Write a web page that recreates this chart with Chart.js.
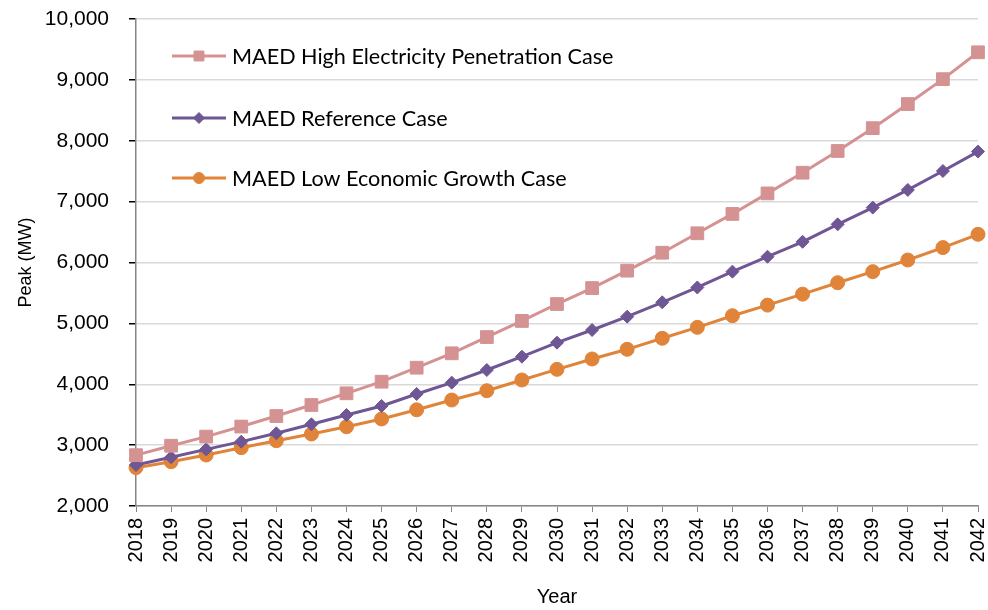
<!DOCTYPE html>
<html>
<head>
<meta charset="utf-8">
<script src="https://cdn.jsdelivr.net/npm/chart.js@4/dist/chart.umd.min.js"></script>
<style>
  html, body { margin: 0; padding: 0; background: #fff; }
  #wrap { width: 988px; height: 610px; }
</style>
</head>
<body>
<div id="wrap"><canvas id="peakChart"></canvas></div>
<script>
// 연도 (x축)
const years = ['2018', '2019', '2020', '2021', '2022', '2023', '2024', '2025', '2026', '2027', '2028', '2029',
    '2030', '2031', '2032', '2033', '2034', '2035', '2036', '2037', '2038', '2039', '2040', '2041', '2042'];

// 시나리오별 피크 (MW)
const highElec = [2835, 2990, 3140, 3305, 3478, 3659, 3851, 4042, 4272, 4508, 4775, 5040, 5318, 5580,
    5866, 6161, 6480, 6798, 7135, 7475, 7832, 8207, 8603, 9012, 9453];
const reference = [2673, 2800, 2930, 3057, 3194, 3342, 3495, 3643, 3840, 4026, 4234, 4453, 4683, 4891,
    5110, 5346, 5590, 5850, 6095, 6340, 6627, 6902, 7192, 7503, 7822];
const lowGrowth = [2630, 2728, 2838, 2958, 3073, 3183, 3303, 3430, 3580, 3741, 3894, 4070, 4245, 4415,
    4574, 4755, 4935, 5126, 5300, 5480, 5668, 5850, 6041, 6245, 6463];

const seriesNames = ['MAED High Electricity Penetration Case', 'MAED Reference Case', 'MAED Low Economic Growth Case'];

// y축 범위
const yMin = 2000;
const yMax = 10000;
const yStep = 1000;

const colHigh = 'rgb(212,146,146)';
const colRef = 'rgb(111,86,148)';
const colLow = 'rgb(224,132,58)';

// 차트 안쪽 범례 그리기
const innerLegend = {
    id: 'innerLegend',
    afterDatasetsDraw(chart) {
        const ctx = chart.ctx;
        const rows = [56, 118, 178];
        const markerSize = [7, 5.5, 5.5];
        ctx.save();
        chart.data.datasets.forEach((ds, i) => {
            const y = rows[i];
            ctx.strokeStyle = ds.borderColor;
            ctx.fillStyle = ds.backgroundColor;
            ctx.lineWidth = 3;
            ctx.beginPath();
            ctx.moveTo(172, y);
            ctx.lineTo(226, y);
            ctx.stroke();
            ctx.lineWidth = 1;
            Chart.helpers.drawPoint(ctx, {
                pointStyle: ds.pointStyle,
                radius: markerSize[i],
                borderWidth: 1
            }, 199, y);
            ctx.fillStyle = '#000';
            ctx.font = '21.6px Lato';
            ctx.textBaseline = 'middle';
            ctx.textAlign = 'left';
            ctx.fillText(ds.label, 232, y + 1);
        });
        ctx.restore();
    }
};

const ctx = document.getElementById('peakChart').getContext('2d');
const peakChart = new Chart(ctx, {
    type: 'line',
    data: {
        labels: years,
        datasets: [
            {
                label: seriesNames[0],
                data: highElec,
                borderColor: colHigh,
                backgroundColor: colHigh,
                borderWidth: 3,
                pointStyle: 'rect',
                pointRadius: 9,
                pointBorderWidth: 1
            },
            {
                label: seriesNames[1],
                data: reference,
                borderColor: colRef,
                backgroundColor: colRef,
                borderWidth: 3,
                pointStyle: 'rectRot',
                pointRadius: 6.5,
                pointBorderWidth: 1
            },
            {
                label: seriesNames[2],
                data: lowGrowth,
                borderColor: colLow,
                backgroundColor: colLow,
                borderWidth: 3,
                pointStyle: 'circle',
                pointRadius: 7,
                pointBorderWidth: 1
            }
        ]
    },
    options: {
        responsive: true,
        maintainAspectRatio: false,
        animation: false,
        layout: { padding: { left: 0, right: 9, top: 19, bottom: 0 } },
        plugins: {
            legend: { display: false },
            tooltip: { enabled: false }
        },
        scales: {
            x: {
                offset: false,
                grid: {
                    drawOnChartArea: false,
                    color: '#868686',
                    tickLength: 6
                },
                border: { color: '#868686', width: 1.5 },
                ticks: {
                    color: '#000',
                    font: { family: 'Liberation Sans', size: 20 },
                    minRotation: 90,
                    maxRotation: 90,
                    padding: 6,
                    autoSkip: false
                },
                title: {
                    display: true,
                    text: 'Year',
                    color: '#000',
                    font: { family: 'Liberation Sans', size: 20 },
                    padding: { top: 0, bottom: 1 }
                },
                afterFit(scale) {
                    scale.height = 104;
                    scale.paddingLeft = 0;
                    scale.paddingRight = 0;
                }
            },
            y: {
                min: yMin,
                max: yMax,
                grid: {
                    color: '#d9d9d9',
                    lineWidth: 1.5,
                    tickColor: '#000',
                    tickLength: 7
                },
                border: { color: '#868686', width: 1.5 },
                ticks: {
                    stepSize: yStep,
                    color: '#000',
                    font: { family: 'Liberation Sans', size: 21 },
                    padding: 20,
                    callback: v => v.toLocaleString('en-US')
                },
                title: {
                    display: true,
                    text: 'Peak (MW)',
                    color: '#000',
                    font: { family: 'Liberation Sans', size: 18 },
                    padding: { top: 15, bottom: 0 }
                },
                afterFit(scale) {
                    scale.width = 136;
                    scale.paddingTop = 0;
                    scale.paddingBottom = 0;
                }
            }
        }
    },
    plugins: [innerLegend]
});
</script>
</body>
</html>
